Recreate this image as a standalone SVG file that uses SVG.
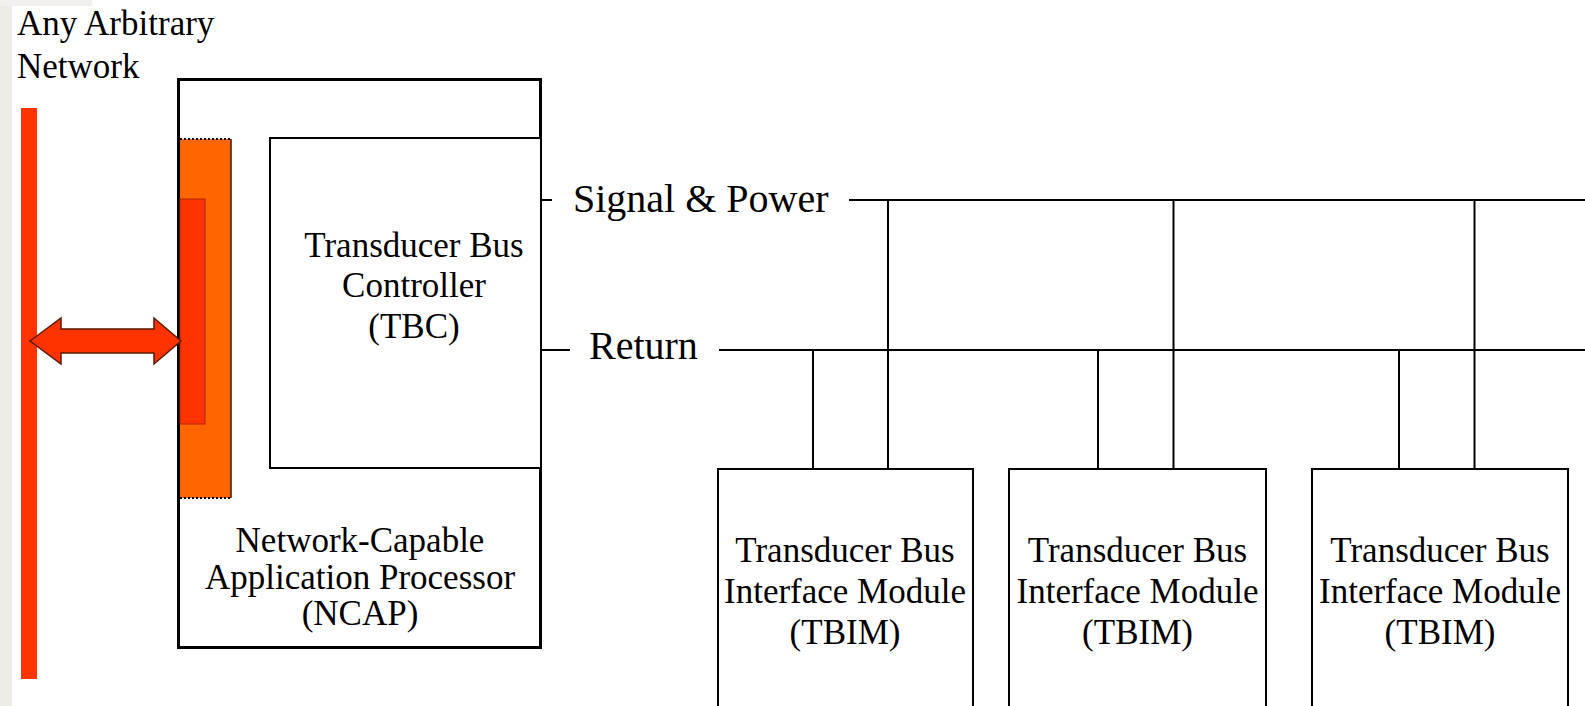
<svg xmlns="http://www.w3.org/2000/svg" width="1585" height="706" viewBox="0 0 1585 706">
  <style>
    .box { font-size: 35px; text-anchor: middle; }
    .bus { font-size: 40px; }
    .thin { fill: #fff; stroke: #000; stroke-width: 2; }
    .wire { stroke: #000; stroke-width: 2; fill: none; }
  </style>
  <rect x="0" y="0" width="1585" height="706" fill="#fff"/>
  <rect x="0" y="0" width="12" height="706" fill="#ecebe7"/>
  <rect x="0" y="0" width="92" height="6" fill="#f1f0ed"/>

  <g font-family="'Liberation Serif', 'Times New Roman', serif" fill="#000">
  <g id="network">
    <rect x="21" y="108" width="16" height="571" fill="#ff3300"/>
    <text x="17" y="35" font-size="35">Any Arbitrary</text>
    <text x="17" y="78" font-size="35">Network</text>
  </g>

  <g id="ncap">
    <rect x="178.5" y="79.5" width="362" height="568" fill="#fff" stroke="#000" stroke-width="3"/>
    <text class="box" x="360" y="552">Network-Capable</text>
    <text class="box" x="360" y="589">Application Processor</text>
    <text class="box" x="360" y="625">(NCAP)</text>
  </g>

  <g id="interface">
    <rect x="180" y="139" width="51" height="359" fill="#ff6600"/>
    <line x1="231" y1="139" x2="231" y2="498" stroke="#3a1a00" stroke-width="1.5"/>
    <line x1="180" y1="139" x2="232" y2="139" stroke="#000" stroke-width="2" stroke-dasharray="2 2"/>
    <line x1="180" y1="498" x2="232" y2="498" stroke="#000" stroke-width="2" stroke-dasharray="2 2"/>
    <rect x="180" y="199" width="25" height="225" fill="#ff3300" stroke="#b32400" stroke-width="1"/>
  </g>

  <g id="tbc">
    <rect class="thin" x="270" y="138" width="271" height="330"/>
    <text class="box" x="414" y="257">Transducer Bus</text>
    <text class="box" x="414" y="297">Controller</text>
    <text class="box" x="414" y="338">(TBC)</text>
  </g>

  <g id="tbim1">
    <rect class="thin" x="718" y="469" width="255" height="250"/>
    <text class="box" x="845" y="562">Transducer Bus</text>
    <text class="box" x="845" y="603">Interface Module</text>
    <text class="box" x="845" y="644">(TBIM)</text>
  </g>
  <g id="tbim2">
    <rect class="thin" x="1009" y="469" width="257" height="250"/>
    <text class="box" x="1137.5" y="562">Transducer Bus</text>
    <text class="box" x="1137.5" y="603">Interface Module</text>
    <text class="box" x="1137.5" y="644">(TBIM)</text>
  </g>
  <g id="tbim3">
    <rect class="thin" x="1312" y="469" width="256" height="250"/>
    <text class="box" x="1440" y="562">Transducer Bus</text>
    <text class="box" x="1440" y="603">Interface Module</text>
    <text class="box" x="1440" y="644">(TBIM)</text>
  </g>

  <g id="connectors">
    <path d="M30 341 L61 318 L61 329 L154 329 L154 318 L181 341 L154 364 L154 353 L61 353 L61 364 Z" fill="#ff3300" stroke="#5a1a00" stroke-width="1.5" stroke-linejoin="miter"/>
    <line class="wire" x1="541" y1="200" x2="552" y2="200"/>
    <line class="wire" x1="849" y1="200" x2="1585" y2="200"/>
    <line class="wire" x1="541" y1="350" x2="570" y2="350"/>
    <line class="wire" x1="719" y1="350" x2="1585" y2="350"/>
    <line class="wire" x1="888" y1="200" x2="888" y2="469"/>
    <line class="wire" x1="813" y1="350" x2="813" y2="469"/>
    <line class="wire" x1="1173.5" y1="200" x2="1173.5" y2="469"/>
    <line class="wire" x1="1098" y1="350" x2="1098" y2="469"/>
    <line class="wire" x1="1474.5" y1="200" x2="1474.5" y2="469"/>
    <line class="wire" x1="1399" y1="350" x2="1399" y2="469"/>
  </g>
  <g id="bus-labels">
    <text class="bus" x="573" y="212">Signal &amp; Power</text>
    <text class="bus" x="589" y="359">Return</text>
  </g>
  </g>
</svg>
